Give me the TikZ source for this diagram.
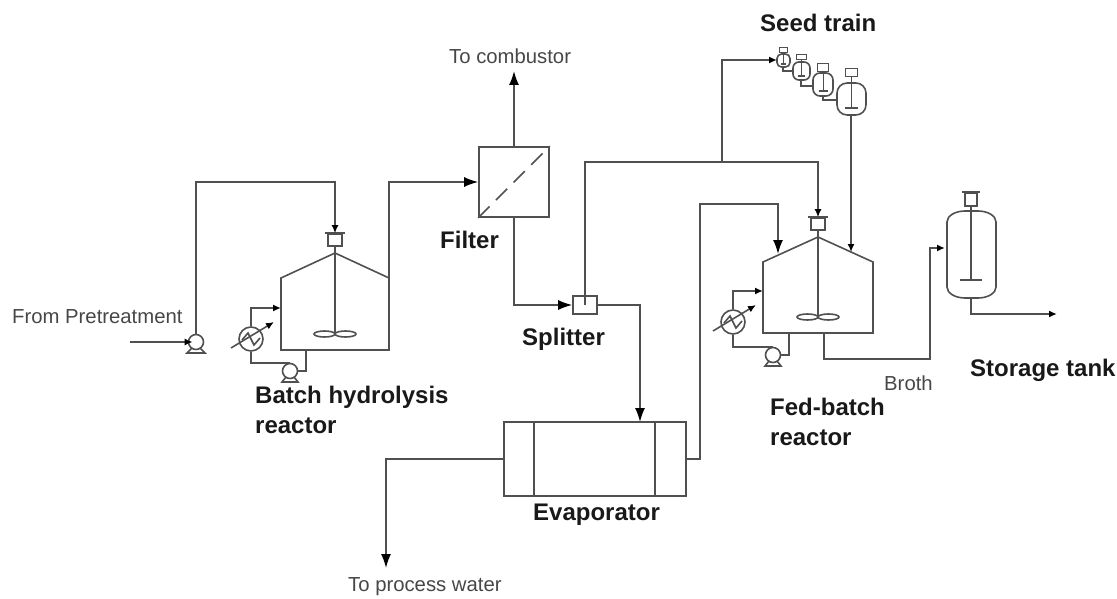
\documentclass[tikz,border=0pt]{standalone}
\usepackage{fontspec}
\setmainfont{Liberation Sans}
\usetikzlibrary{arrows.meta}
\definecolor{pipe}{HTML}{505050}
\tikzset{
  line/.style={draw=pipe,line width=1.6pt},
  flow/.style={line,-{Latex[length=8pt,width=7pt,color=black]}},
  bigflow/.style={line,-{Latex[length=14pt,width=10pt,color=black]}},
  thin label/.style={font=\fontsize{20.3}{24}\selectfont,text=black!72,inner sep=0pt},
  bold label/.style={font=\fontsize{24}{30}\selectfont\bfseries,text=black!90,inner sep=0pt,align=left},
  pump/.style={circle,line,minimum size=15pt,inner sep=0pt},
  cooler/.style={circle,line,minimum size=24pt,inner sep=0pt},
  motor/.style={rectangle,line,inner sep=0pt},
}
\begin{document}
\begin{tikzpicture}[x=1pt,y=-1pt]
  \useasboundingbox (0,0) rectangle (1117,599);

  % filter, splitter and evaporator
  \node[rectangle,line,minimum width=70pt,minimum height=70pt,inner sep=0pt] (filter) at (514,182) {};
  \draw[line,dash pattern=on 16pt off 9pt] (filter.south west) -- (filter.north east);
  \node[rectangle,line,minimum width=24pt,minimum height=18pt,inner sep=0pt] (splitter) at (585,305) {};
  \node[rectangle,line,minimum width=182pt,minimum height=74pt,inner sep=0pt] (evap) at (595,459) {};
  \foreach \x in {534,655} {
    \draw[line] (\x,422) -- (\x,496);
  }

  % the two big reactors: name, left, right, shoulder, apex, bottom
  \foreach \n/\l/\r/\s/\a/\b in {batch/281/389/278/253/350, fed/763/873/262/237/333} {
    \coordinate (\n top) at ({(\l+\r)/2},\a);
    \draw[line] (\l,\s) -- (\n top) -- (\r,\s) -- (\r,\b) -- (\l,\b) -- cycle;
    \node[motor,minimum width=14pt,minimum height=12pt] (\n motor) at ({(\l+\r)/2},\a-13) {};
    \draw[line,line width=2pt] ([xshift=-2pt]\n motor.north west) -- ([xshift=2pt]\n motor.north east);
    \draw[line] (\n motor.south) -- ({(\l+\r)/2},\b-16);
    \draw[line] ({(\l+\r)/2-10.5},\b-16) ellipse (10.5 and 3);
    \draw[line] ({(\l+\r)/2+10.5},\b-16) ellipse (10.5 and 3);
  }

  % coolers and their pumps: name, cooler x, cooler y, pump x, pump y
  \foreach \n/\x/\y/\p/\q/\w/\b in {batch/251/339/290/371/281/350, fed/733/322/773/355/763/333} {
    \node[cooler] (\n cooler) at (\x,\y) {};
    \draw[line] (\x-9,\y+1) -- (\x-3,\y-6) -- (\x+3,\y+6) -- (\x+9,\y-1);
    \draw[flow] (\x-20,\y+9) -- (\x+23,\y-17);
    \node[pump] (\n pump) at (\p,\q) {};
    \draw[line] (\p-4,\q+6) -- (\p-8,\q+11) -- (\p+8,\q+11) -- (\p+4,\q+6);
    \draw[flow] (\n cooler.north) |- (\w,\y-31);
    \draw[line] (\n cooler.south) |- (\n pump.north);
    \draw[line] (\n pump.east) -| (\p+16,\b);
  }

  % feed pump
  \node[pump] (feedpump) at (196,342) {};
  \draw[line] (192,348) -- (187,353) -- (205,353) -- (200,348);
  \coordinate (feedin) at (130,342);
  \draw[flow] (feedin) -- ([xshift=5pt]feedpump.west);
  \draw[flow] (feedpump.north) -- (feedpump.north |- 0,182) -- (batchmotor.north |- 0,182) -- (batchmotor.north);
  \draw[bigflow] (389,313) -- (389,182) -- (filter.west);

  % filter outlets
  \coordinate (combustor) at (filter.north |- 0,71);
  \draw[bigflow] (filter.north) -- (combustor);
  \draw[bigflow] (filter.south) |- (splitter.west);

  % splitter outlets
  \coordinate (branch) at (722,162);
  \draw[line] (splitter.center) |- (branch);
  \draw[flow] (branch) -- (fedmotor.north |- branch) -- (fedmotor.north);
  \draw[bigflow] (splitter.east) -| (640,422);

  % seed train: name, x, top, bottom, half width, motor top, motor bottom
  \foreach \n/\x/\t/\b/\w/\m/\k in {a/783.5/54/67/6.5/47/53, b/801.5/62/80/8.5/54/60, c/823/73/96/10/63/72, d/851.5/83/115/14.5/68/77} {
    \draw[line,rounded corners=\w*0.7pt] (\x-\w,\t) rectangle (\x+\w,\b);
    \node[motor,minimum width=\w*0.55pt+5pt,minimum height=\k-\m-1,line width=1pt] (seed\n) at (\x,{(\m+\k)/2}) {};
    \draw[line,line width=1pt] (seed\n.south) -- (\x,\b-\w*0.5);
    \draw[line,line width=2pt] (\x-\w*0.45,\b-\w*0.5) -- (\x+\w*0.45,\b-\w*0.5);
  }
  \draw[flow] (branch) |- (777,60);
  \draw[line] (783,67) |- (793,71);
  \draw[line] (801,80) |- (813,86);
  \draw[line] (823,96) |- (837,100);
  \draw[flow] (851,115) -- (851,252);

  % evaporator outlets
  \draw[bigflow] (evap.east) -| (700,204) -| (778,254);
  \coordinate (water) at (386,568);
  \draw[bigflow] (evap.west) -| (water);

  % storage tank
  \draw[line] (947,222) arc[start angle=180,end angle=270,x radius=18,y radius=11] -- (978,211)
    arc[start angle=270,end angle=360,x radius=18,y radius=11] -- (996,287)
    arc[start angle=0,end angle=90,x radius=18,y radius=11] -- (965,298)
    arc[start angle=90,end angle=180,x radius=18,y radius=11] -- cycle;
  \node[motor,minimum width=12pt,minimum height=13pt] (storemotor) at (971,199.5) {};
  \draw[line,line width=2pt] ([xshift=-2pt]storemotor.north west) -- ([xshift=2pt]storemotor.north east);
  \draw[line] (storemotor.south) -- (971,280);
  \draw[line,line width=2.2pt] (960,280) -- (982,280);
  \draw[flow] (824,333) |- (930,359) |- (945,248);
  \draw[flow] (971,298) |- (1057,314);

  % labels
  \node[thin label,anchor=west] (lpre) at (12,317) {From Pretreatment};
  \node[thin label,anchor=west] (lcomb) at (449,56) {To combustor};
  \node[thin label,anchor=west] (lwater) at (348,587) {To process water};
  \node[thin label,anchor=west] (lbroth) at (884,383) {Broth};
  \node[bold label,anchor=west] (lseed) at (760,23) {Seed train};
  \node[bold label,anchor=west] (lfilter) at (440,240) {Filter};
  \node[bold label,anchor=west] (lsplit) at (522,339) {Splitter};
  \node[bold label,anchor=north west] (lbatch) at (255,386) {Batch hydrolysis\\reactor};
  \node[bold label,anchor=north west] (lfed) at (770,398) {Fed-batch\\reactor};
  \node[bold label,anchor=west] (lstore) at (970,370) {Storage tank};
  \node[bold label,anchor=west] (levap) at (533,515) {Evaporator};
\end{tikzpicture}
\end{document}
